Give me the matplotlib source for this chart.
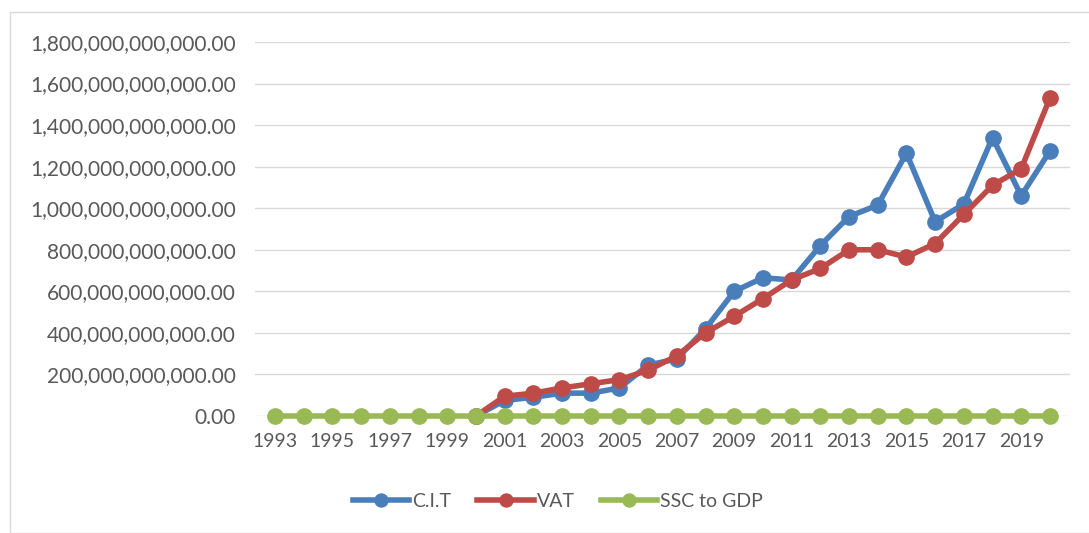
import numpy as np
import matplotlib.pyplot as plt
from matplotlib.ticker import FuncFormatter
from matplotlib.patches import Rectangle

plt.rcParams["font.family"] = ["Lato", "DejaVu Sans"]

years = list(range(1993, 2021))
# values in billions
cit_bn = [0, 0, 0, 0, 0, 0, 0, 0, 75, 90, 110, 110, 135, 245, 275, 420, 600,
          665, 655, 820, 960, 1015, 1265, 935, 1020, 1340, 1060, 1275]
vat_bn = [0, 0, 0, 0, 0, 0, 0, 0, 95, 110, 135, 155, 175, 220, 290, 400, 480,
          565, 655, 710, 800, 800, 765, 830, 970, 1110, 1190, 1530]
ssc = [0] * len(years)

cit = np.array(cit_bn) * 1e9
vat = np.array(vat_bn) * 1e9
ssc = np.array(ssc, dtype=float)

# before 2000 the tax lines are hidden (no data), only SSC shows
cit_plot = np.where(np.array(years) < 2000, np.nan, cit)
vat_plot = np.where(np.array(years) < 2000, np.nan, vat)

fig = plt.figure(figsize=(10.89, 5.33), dpi=100)
ax = fig.add_axes([255 / 1089, 1 - 416 / 533, (1070 - 255) / 1089, (416 - 42) / 533])

fig.patches.append(Rectangle((10 / 1089, 0), 1.2, 1 - 12 / 533, transform=fig.transFigure,
                             fill=False, edgecolor="#D9D9D9", lw=1))

ax.plot(years, cit_plot, color="#4A7EBB", lw=4, marker="o", ms=11, label="C.I.T", zorder=3)
ax.plot(years, vat_plot, color="#BE4B48", lw=4, marker="o", ms=11, label="VAT", zorder=4)
ax.plot(years, ssc, color="#98B954", lw=4, marker="o", ms=11, label="SSC to GDP", zorder=5)

ax.set_ylim(0, 1.8e12)
ax.set_yticks(np.arange(0, 1.81e12, 2e11))
ax.yaxis.set_major_formatter(FuncFormatter(lambda v, p: f"{v:,.2f}"))
ax.set_xlim(1992.3, 2020.7)
ax.set_xticks(years[::2])
ax.grid(axis="y", color="#D9D9D9", lw=1)
ax.set_axisbelow(True)
for s in ax.spines.values():
    s.set_visible(False)
ax.tick_params(axis="y", length=0, labelsize=15, colors="#595959", pad=14)
ax.tick_params(axis="x", length=0, labelsize=14, colors="#595959", pad=12)
for ln in ax.lines:
    ln.set_clip_on(False)

ax.legend(loc="upper left", bbox_to_anchor=((345 - 255) / 815, -0.185), ncol=3, frameon=False,
          fontsize=14, labelcolor="#595959", handlelength=2.9, columnspacing=1.35,
          handletextpad=0.15, markerscale=0.85, borderaxespad=0, borderpad=0.4)

fig.savefig("out.png", dpi=100)
